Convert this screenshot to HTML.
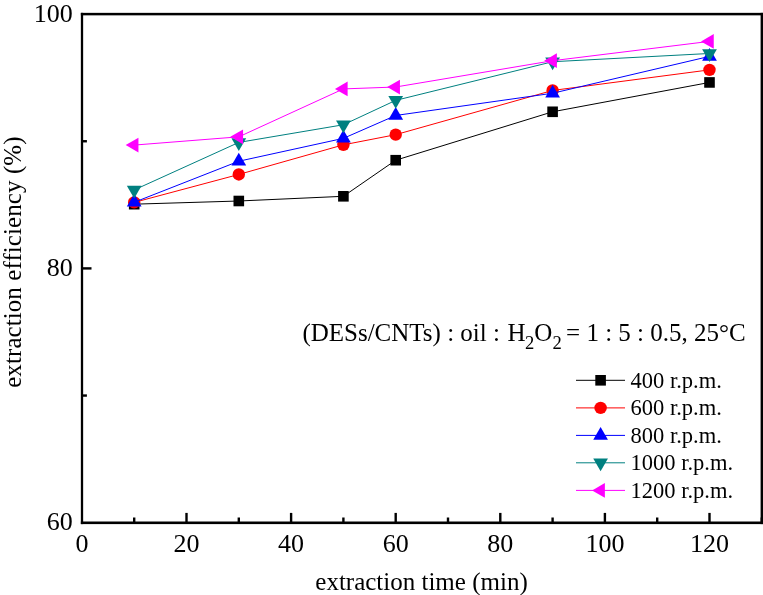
<!DOCTYPE html>
<html><head><meta charset="utf-8"><style>
html,body{margin:0;padding:0;background:#fff;}
svg{display:block;will-change:transform;}
#wrap{width:763px;height:595px;}
text{font-family:"Liberation Serif",serif;fill:#000;}
.tk{font-size:26px;}
.lg{font-size:22.5px;}
.ann{font-size:25px;}
.ax{font-size:25px;}
</style></head><body>
<div id="wrap"><svg width="763" height="595" viewBox="0 0 763 595">
<rect x="0" y="0" width="763" height="595" fill="#fff"/>
<polyline points="134.20,204.18 238.80,201.00 343.40,196.30 395.70,160.21 552.60,111.79 709.50,82.44" fill="none" stroke="#000000" stroke-width="1.0"/>
<rect x="128.90" y="198.88" width="10.6" height="10.6" fill="#000000"/>
<rect x="233.50" y="195.70" width="10.6" height="10.6" fill="#000000"/>
<rect x="338.10" y="191.00" width="10.6" height="10.6" fill="#000000"/>
<rect x="390.40" y="154.91" width="10.6" height="10.6" fill="#000000"/>
<rect x="547.30" y="106.49" width="10.6" height="10.6" fill="#000000"/>
<rect x="704.20" y="77.14" width="10.6" height="10.6" fill="#000000"/>
<polyline points="134.20,202.40 238.80,174.44 343.40,144.83 395.70,134.67 552.60,90.44 709.50,69.86" fill="none" stroke="#ff0000" stroke-width="1.0"/>
<circle cx="134.20" cy="202.40" r="6.2" fill="#ff0000"/>
<circle cx="238.80" cy="174.44" r="6.2" fill="#ff0000"/>
<circle cx="343.40" cy="144.83" r="6.2" fill="#ff0000"/>
<circle cx="395.70" cy="134.67" r="6.2" fill="#ff0000"/>
<circle cx="552.60" cy="90.44" r="6.2" fill="#ff0000"/>
<circle cx="709.50" cy="69.86" r="6.2" fill="#ff0000"/>
<polyline points="134.20,202.27 238.80,161.23 343.40,138.35 395.70,115.48 552.60,93.24 709.50,56.39" fill="none" stroke="#0000ff" stroke-width="1.0"/>
<polygon points="134.20,193.77 126.84,206.52 141.56,206.52" fill="#0000ff"/>
<polygon points="238.80,152.73 231.44,165.48 246.16,165.48" fill="#0000ff"/>
<polygon points="343.40,129.85 336.04,142.60 350.76,142.60" fill="#0000ff"/>
<polygon points="395.70,106.98 388.34,119.73 403.06,119.73" fill="#0000ff"/>
<polygon points="552.60,84.74 545.24,97.49 559.96,97.49" fill="#0000ff"/>
<polygon points="709.50,47.89 702.14,60.64 716.86,60.64" fill="#0000ff"/>
<polyline points="134.20,189.94 238.80,142.42 343.40,124.76 395.70,100.36 552.60,61.73 709.50,53.47" fill="none" stroke="#008080" stroke-width="1.0"/>
<polygon points="134.20,198.44 126.84,185.69 141.56,185.69" fill="#008080"/>
<polygon points="238.80,150.92 231.44,138.17 246.16,138.17" fill="#008080"/>
<polygon points="343.40,133.26 336.04,120.51 350.76,120.51" fill="#008080"/>
<polygon points="395.70,108.86 388.34,96.11 403.06,96.11" fill="#008080"/>
<polygon points="552.60,70.23 545.24,57.48 559.96,57.48" fill="#008080"/>
<polygon points="709.50,61.97 702.14,49.22 716.86,49.22" fill="#008080"/>
<polyline points="134.20,145.09 238.80,136.83 343.40,88.92 395.70,87.01 552.60,60.71 709.50,41.39" fill="none" stroke="#ff00ff" stroke-width="1.0"/>
<polygon points="125.70,145.09 138.45,137.73 138.45,152.45" fill="#ff00ff"/>
<polygon points="230.30,136.83 243.05,129.47 243.05,144.19" fill="#ff00ff"/>
<polygon points="334.90,88.92 347.65,81.56 347.65,96.28" fill="#ff00ff"/>
<polygon points="387.20,87.01 399.95,79.65 399.95,94.38" fill="#ff00ff"/>
<polygon points="544.10,60.71 556.85,53.35 556.85,68.07" fill="#ff00ff"/>
<polygon points="701.00,41.39 713.75,34.03 713.75,48.76" fill="#ff00ff"/>
<g stroke="#000" stroke-width="2.4" fill="none">
<line x1="134.20" y1="522.5" x2="134.20" y2="517.5" />
<line x1="186.50" y1="522.5" x2="186.50" y2="512.9" />
<line x1="238.80" y1="522.5" x2="238.80" y2="517.5" />
<line x1="291.10" y1="522.5" x2="291.10" y2="512.9" />
<line x1="343.40" y1="522.5" x2="343.40" y2="517.5" />
<line x1="395.70" y1="522.5" x2="395.70" y2="512.9" />
<line x1="448.00" y1="522.5" x2="448.00" y2="517.5" />
<line x1="500.30" y1="522.5" x2="500.30" y2="512.9" />
<line x1="552.60" y1="522.5" x2="552.60" y2="517.5" />
<line x1="604.90" y1="522.5" x2="604.90" y2="512.9" />
<line x1="657.20" y1="522.5" x2="657.20" y2="517.5" />
<line x1="709.50" y1="522.5" x2="709.50" y2="512.9" />
<line x1="761.80" y1="522.5" x2="761.80" y2="517.5" />
<line x1="81.9" y1="395.55" x2="86.9" y2="395.55" />
<line x1="81.9" y1="268.40" x2="91.5" y2="268.40" />
<line x1="81.9" y1="141.25" x2="86.9" y2="141.25" />
</g>
<g fill="#000">
<rect x="80.85" y="12.85" width="682.15" height="2.5"/>
<rect x="80.85" y="521.5" width="682.15" height="2.6"/>
<rect x="80.85" y="12.85" width="2.3" height="511.25"/>
<rect x="760.6" y="12.85" width="2.4" height="511.25"/>
</g>
<g class="tk">
<text x="81.90" y="552.2" text-anchor="middle">0</text>
<text x="186.50" y="552.2" text-anchor="middle">20</text>
<text x="291.10" y="552.2" text-anchor="middle">40</text>
<text x="395.70" y="552.2" text-anchor="middle">60</text>
<text x="500.30" y="552.2" text-anchor="middle">80</text>
<text x="604.90" y="552.2" text-anchor="middle">100</text>
<text x="709.50" y="552.2" text-anchor="middle">120</text>
<text x="72.8" y="529.80" text-anchor="end">60</text>
<text x="72.8" y="275.65" text-anchor="end">80</text>
<text x="72.8" y="21.50" text-anchor="end">100</text>
</g>
<text class="ann" y="340.8"><tspan x="302.4">(DESs/CNTs) : oil :</tspan><tspan x="507.4">H</tspan><tspan x="525.0" dy="8" font-size="18.6">2</tspan><tspan x="534.3" dy="-8">O</tspan><tspan x="552.5" dy="8" font-size="18.6">2</tspan><tspan x="566.05" dy="-8">= 1 : 5 : 0.5, 25°C</tspan></text>
<line x1="576" y1="380.3" x2="625" y2="380.3" stroke="#000000" stroke-width="1.0"/>
<rect x="595.30" y="375.00" width="10.6" height="10.6" fill="#000000"/>
<text x="630.5" y="387.5" class="lg">400 r.p.m.</text>
<line x1="576" y1="407.9" x2="625" y2="407.9" stroke="#ff0000" stroke-width="1.0"/>
<circle cx="600.60" cy="407.90" r="6.2" fill="#ff0000"/>
<text x="630.5" y="415.1" class="lg">600 r.p.m.</text>
<line x1="576" y1="435.4" x2="625" y2="435.4" stroke="#0000ff" stroke-width="1.0"/>
<polygon points="600.60,426.90 593.24,439.65 607.96,439.65" fill="#0000ff"/>
<text x="630.5" y="442.6" class="lg">800 r.p.m.</text>
<line x1="576" y1="462.8" x2="625" y2="462.8" stroke="#008080" stroke-width="1.0"/>
<polygon points="600.60,471.30 593.24,458.55 607.96,458.55" fill="#008080"/>
<text x="630.5" y="470.0" class="lg">1000 r.p.m.</text>
<line x1="576" y1="490.4" x2="625" y2="490.4" stroke="#ff00ff" stroke-width="1.0"/>
<polygon points="592.10,490.40 604.85,483.04 604.85,497.76" fill="#ff00ff"/>
<text x="630.5" y="497.6" class="lg">1200 r.p.m.</text>
<text class="ax" x="421.5" y="590.2" text-anchor="middle">extraction time (min)</text>
<text class="ax" transform="translate(21.4,262.1) rotate(-90)" text-anchor="middle" letter-spacing="0.08">extraction efficiency (%)</text>
</svg></div>
</body></html>
